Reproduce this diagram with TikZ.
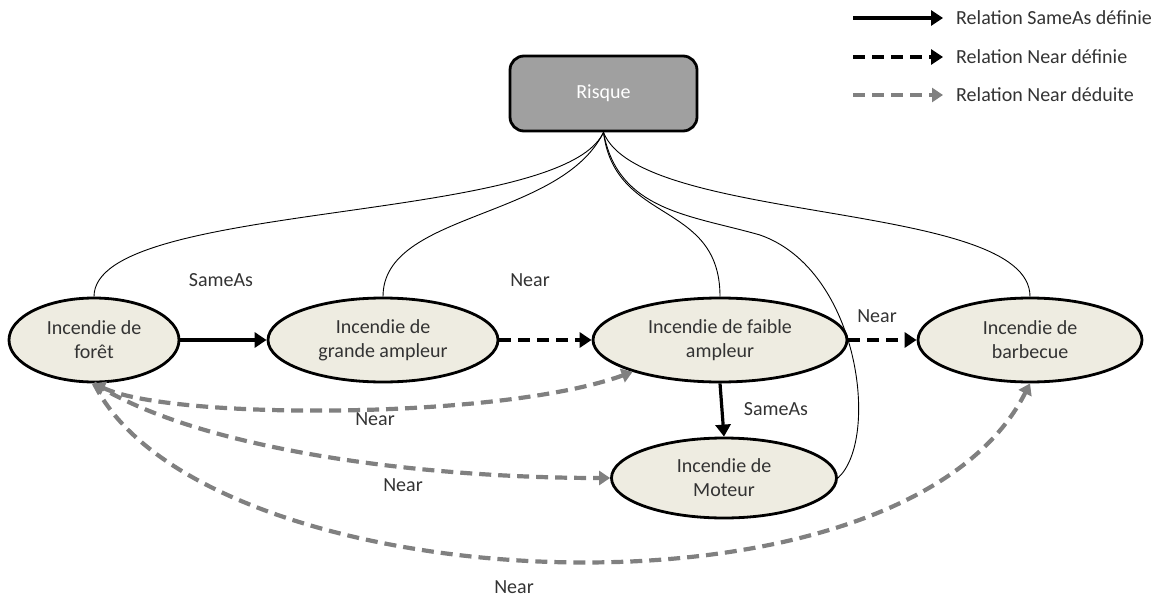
\documentclass[tikz,border=0pt]{standalone}
\usepackage{fontspec}
\setmainfont{Carlito}
\usetikzlibrary{shapes.geometric,arrows.meta}
\definecolor{nodefill}{HTML}{EEECE1}
\definecolor{boxfill}{HTML}{A0A0A0}
\definecolor{deduced}{HTML}{808080}
\definecolor{ink}{HTML}{333333}
\begin{document}
\begin{tikzpicture}[x=1pt,y=-1pt,
  every node/.style={font=\fontsize{20}{24}\selectfont, text=ink},
  event/.style={ellipse, draw=black, line width=2.8pt, fill=nodefill,
    inner sep=0pt, align=center, minimum height=84pt},
  topbox/.style={rectangle, rounded corners=14pt, draw=black, line width=2.8pt,
    fill=boxfill, minimum width=187pt, minimum height=75pt, text=white},
  lbl/.style={inner sep=1pt},
  link/.style={line width=0.9pt, black},
  sameas/.style={line width=3.2pt, black, -{Triangle[length=12pt,width=15pt]}},
  neardef/.style={line width=3.2pt, black, dash pattern=on 12pt off 7pt,
    -{Triangle[length=12pt,width=15pt]}},
  neardeduced/.style={line width=4.2pt, deduced, dash pattern=on 12pt off 7pt,
    -{Triangle[length=11pt,width=14pt]}},
]
\useasboundingbox (0,0) rectangle (1161,599);

% central concept
\node[topbox] (risk) at (603.5,93.5) {Risque};

% events
\node[event, minimum width=170pt] (fo) at (94,340) {Incendie de\\forêt};
\node[event, minimum width=230pt] (gr) at (383,340) {Incendie de\\grande ampleur};
\node[event, minimum width=254pt] (fa) at (720,340) {Incendie de faible\\ampleur};
\node[event, minimum width=224pt] (ba) at (1030,340) {Incendie de\\barbecue};
\node[event, minimum width=225pt, minimum height=80pt] (mo) at (724,478) {Incendie de\\Moteur};

% links from the central concept
\draw[link] (risk.south) .. controls (560,225) and (94,200) .. (fo.north);
\draw[link] (risk.south) .. controls (560,220) and (383,212) .. (gr.north);
\draw[link] (risk.south) .. controls (615,225) and (720,200) .. (fa.north);
\draw[link] (risk.south) .. controls (640,225) and (1030,200) .. (ba.north);
\draw[link] (risk.south) .. controls (618,211) and (690,215) .. (760,235)
  .. controls (860,270) and (880,440) .. (mo.east);

% defined relations
\draw[sameas] (fo) -- (gr);
\draw[neardef] (gr) -- (fa);
\draw[neardef] (fa) -- (ba);
\draw[sameas] (fa.south) -- (mo.north);

% deduced relations
\draw[neardeduced, {Triangle[length=11pt,width=14pt]}-{Triangle[length=11pt,width=14pt]}]
  (fo.south) .. controls (170,420) and (500,420) .. (fa.200);
\draw[neardeduced] (fo.south) .. controls (200,450) and (420,478) .. (mo.west);
\draw[neardeduced] (fo.south) .. controls (200,600) and (900,640) .. (ba.south);

% relation labels
\node[lbl] (l1) at (221,280) {SameAs};
\node[lbl] (l2) at (530,280) {Near};
\node[lbl] (l3) at (877,316) {Near};
\node[lbl] (l4) at (776,409) {SameAs};
\node[lbl] (l5) at (375,419) {Near};
\node[lbl] (l6) at (403,485) {Near};
\node[lbl] (l7) at (514,587) {Near};

% legend
\coordinate (k1a) at (853,18);  \coordinate (k1b) at (943,18);
\coordinate (k2a) at (853,57);  \coordinate (k2b) at (943,57);
\coordinate (k3a) at (853,95);  \coordinate (k3b) at (943,95);
\draw[sameas] (k1a) -- (k1b);
\draw[neardef] (k2a) -- (k2b);
\draw[neardeduced] (k3a) -- (k3b);
\node[lbl, anchor=west] (t1) at (955,18) {Relation SameAs définie};
\node[lbl, anchor=west] (t2) at (955,57) {Relation Near définie};
\node[lbl, anchor=west] (t3) at (955,95) {Relation Near déduite};
\end{tikzpicture}
\end{document}
